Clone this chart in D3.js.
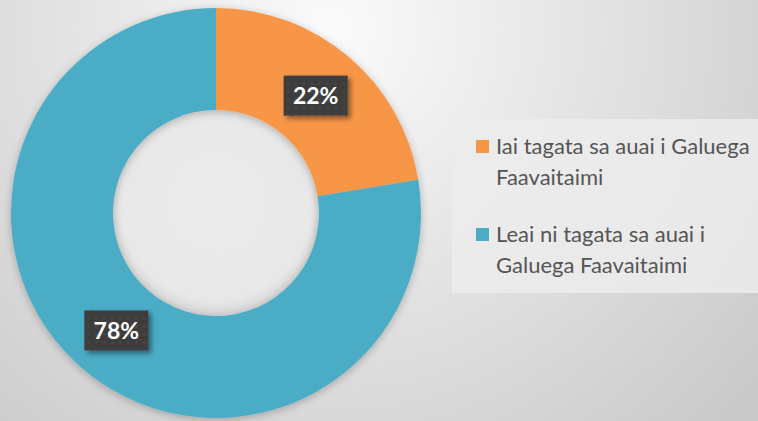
<!DOCTYPE html>
<html>
<head>
<meta charset="utf-8">
<script src="https://cdn.jsdelivr.net/npm/d3@7"></script>
<style>
  html, body { margin: 0; padding: 0; overflow: hidden; }
  svg { display: block; }
</style>
</head>
<body>
<svg id="chart" width="758" height="421"></svg>
<script>
// data (labels show the rounded percent)
const categories = ["Iai tagata sa auai i Galuega Faavaitaimi", "Leai ni tagata sa auai i Galuega Faavaitaimi"];
const values = [22.4, 77.6];
const legendLines = [["Iai tagata sa auai i Galuega", "Faavaitaimi"], ["Leai ni tagata sa auai i", "Galuega Faavaitaimi"]];
const colors = ["#F79646", "#4BACC6"];

const svg = d3.select("#chart");
const width = 758, height = 421;
const cx = 216, cy = 213;
const outerR = 205, innerR = 103;

const defs = svg.append("defs");

// background gradient
const bg = defs.append("radialGradient").attr("id", "bg")
  .attr("gradientUnits", "userSpaceOnUse")
  .attr("cx", 330).attr("cy", 30).attr("r", 560);
bg.append("stop").attr("offset", "0%").attr("stop-color", "#fbfbfb");
bg.append("stop").attr("offset", "100%").attr("stop-color", "#c9c9c9");

svg.append("rect").attr("width", width).attr("height", height).attr("fill", "url(#bg)");

// shadows
const ds = defs.append("filter").attr("id", "pieShadow")
  .attr("x", "-20%").attr("y", "-20%").attr("width", "140%").attr("height", "140%");
ds.append("feDropShadow").attr("dx", 0).attr("dy", 2).attr("stdDeviation", 4)
  .attr("flood-color", "#000").attr("flood-opacity", 0.25);

const ls = defs.append("filter").attr("id", "labelShadow")
  .attr("x", "-30%").attr("y", "-30%").attr("width", "170%").attr("height", "180%");
ls.append("feDropShadow").attr("dx", 3).attr("dy", 3).attr("stdDeviation", 2.5)
  .attr("flood-color", "#000").attr("flood-opacity", 0.45);

// dotted texture for label boxes
const pat = defs.append("pattern").attr("id", "dots")
  .attr("patternUnits", "userSpaceOnUse").attr("width", 8).attr("height", 8);
pat.append("rect").attr("width", 8).attr("height", 8).attr("fill", "#3d3d3d");
pat.append("circle").attr("cx", 4).attr("cy", 4).attr("r", 1.3).attr("fill", "#4a4a4a");

// inner hole shading
const hole = defs.append("radialGradient").attr("id", "hole")
  .attr("cx", "50%").attr("cy", "45%").attr("r", "55%");
hole.append("stop").attr("offset", "0%").attr("stop-color", "#ececec");
hole.append("stop").attr("offset", "85%").attr("stop-color", "#e8e8e8");
hole.append("stop").attr("offset", "100%").attr("stop-color", "#d6d6d6");

const pie = d3.pie().sort(null).value(d => d);
const arc = d3.arc().innerRadius(innerR).outerRadius(outerR);
const arcs = pie(values);

const g = svg.append("g").attr("transform", `translate(${cx},${cy})`);

g.append("circle").attr("r", innerR).attr("fill", "url(#hole)");

g.append("g").attr("filter", "url(#pieShadow)")
  .selectAll("path").data(arcs).join("path")
  .attr("d", arc)
  .attr("fill", (d, i) => colors[i]);

// data labels
const boxW = 64, boxH = 40;
const lab = g.selectAll("g.lab").data(arcs).join("g")
  .attr("class", "lab")
  .attr("transform", d => `translate(${arc.centroid(d)})`);
lab.append("rect")
  .attr("x", -boxW / 2).attr("y", -boxH / 2)
  .attr("width", boxW).attr("height", boxH)
  .attr("fill", "url(#dots)")
  .attr("filter", "url(#labelShadow)");
lab.append("text")
  .attr("text-anchor", "middle").attr("dy", "0.37em")
  .attr("font-family", "Lato, 'Open Sans', sans-serif")
  .attr("font-weight", 700).attr("font-size", 23)
  .attr("fill", "#ffffff")
  .text(d => Math.round(d.data) + "%");

// legend
const legend = svg.append("g");
legend.append("rect")
  .attr("x", 452).attr("y", 119).attr("width", 306).attr("height", 174)
  .attr("fill", "#ececec").attr("opacity", 0.85);

const item = legend.selectAll("g.item").data(categories).join("g")
  .attr("class", "item")
  .attr("transform", (d, i) => `translate(476,${140 + i * 88})`);
item.append("rect")
  .attr("width", 13).attr("height", 13)
  .attr("fill", (d, i) => colors[i]);
item.append("text")
  .attr("x", 20).attr("y", 14)
  .attr("font-family", "Lato, 'Open Sans', sans-serif")
  .attr("font-size", 22)
  .attr("fill", "#555555")
  .selectAll("tspan").data((d, i) => legendLines[i]).join("tspan")
  .attr("x", 20).attr("dy", (d, j) => j === 0 ? 0 : 31)
  .text(d => d);
</script>
</body>
</html>
